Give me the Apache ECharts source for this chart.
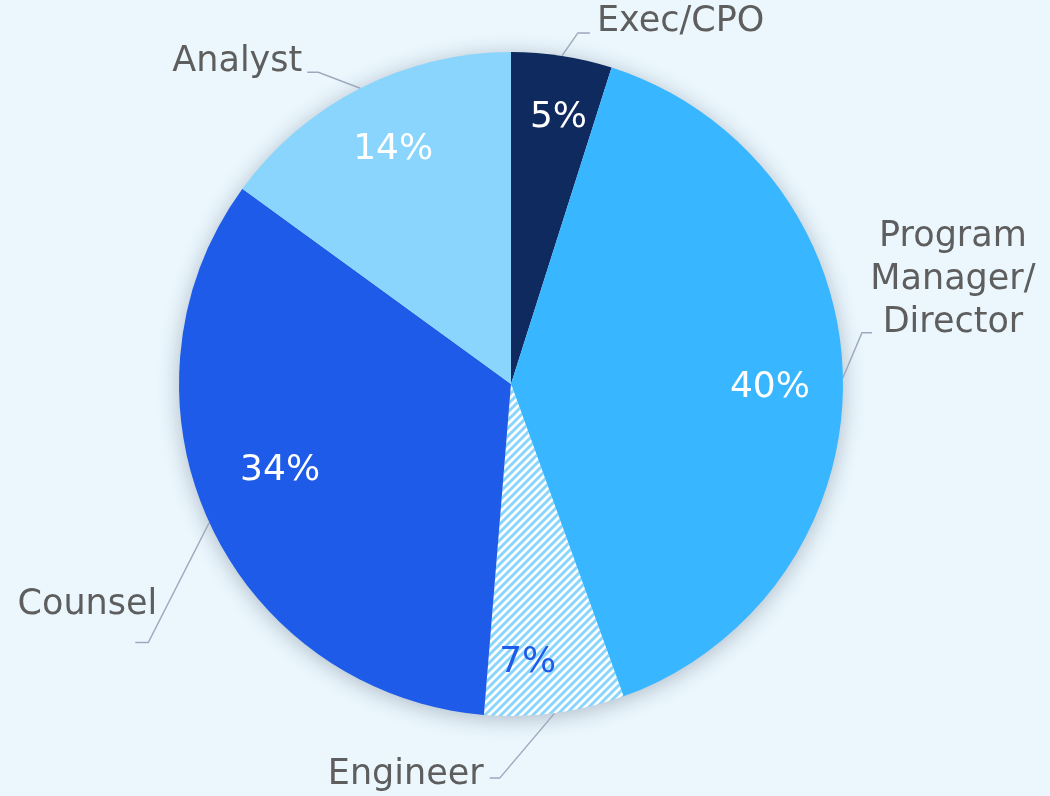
<!DOCTYPE html>
<html>
<head>
<meta charset="utf-8">
<script src="https://cdn.jsdelivr.net/npm/echarts@6/dist/echarts.min.js"></script>
<style>
  html, body { margin: 0; padding: 0; background: #EBF7FD; }
  #chart { width: 1050px; height: 796px; }
</style>
</head>
<body>
<div id="chart"></div>
<script>
const roles = ['Exec/CPO', 'Program\nManager/\nDirector', 'Engineer', 'Counsel', 'Analyst']
// slice sizes as drawn (angles)
const shares = [4.9, 39.6, 6.8, 33.7, 15.0]
// percentages as printed on the slices
const shareLabels = ['5%', '40%', '7%', '34%', '14%']

const sliceColors = ['#0E2A5F', '#38B6FF', null, '#1E5BE8', '#8AD5FD']
const pctColors = ['#fff', '#fff', '#1E5BE8', '#fff', '#fff']
const pctNudge = [[7, -5], [-5, 9], [-18, 17], [9, -24], [2, 1]]
// elbow offset from the arc anchor, horizontal leg, text offset from leg end, align
const labelLegs = [
  [16, -23, 12, 7, -11, 'left'],
  [19, -45, 10, 81, -53, 'center'],
  [-55, 65, -10, -6, -3, 'right'],
  [-61, 120, -13, 22, -38, 'right'],
  [-42, -16, -11, -5, -10, 'right'],
]

function stripes() {
  const c = document.createElement('canvas')
  c.width = 8
  c.height = 8
  const g = c.getContext('2d')
  g.fillStyle = '#ffffff'
  g.fillRect(0, 0, 8, 8)
  g.strokeStyle = '#8AD5FD'
  g.lineWidth = 3
  g.beginPath()
  g.moveTo(-2, 10); g.lineTo(10, -2)
  g.moveTo(-2, 2); g.lineTo(2, -2)
  g.moveTo(6, 10); g.lineTo(10, 6)
  g.stroke()
  return { image: c, repeat: 'repeat' }
}

const hatch = stripes()
const font = '"DejaVu Sans", sans-serif'
const center = [511, 384]

const chart = echarts.init(document.getElementById('chart'))
chart.setOption({
  backgroundColor: '#EBF7FD',
  animation: false,
  series: [
    {
      // plain disc underneath that carries the drop shadow
      type: 'pie',
      center,
      radius: 331,
      silent: true,
      z: 1,
      label: { show: false },
      labelLine: { show: false },
      itemStyle: {
        color: '#EBF7FD',
        shadowBlur: 22,
        shadowColor: 'rgba(30, 45, 70, 0.32)',
        shadowOffsetY: 3,
      },
      data: [{ name: 'shadow', value: 1 }],
    },
    {
      type: 'pie',
      center,
      radius: 332,
      startAngle: 90,
      clockwise: true,
      z: 2,
      avoidLabelOverlap: false,
      emphasis: { disabled: true },
      label: {
        show: true,
        position: 'outside',
        formatter: '{b}',
        color: '#5E5E5E',
        fontFamily: font,
        fontSize: 35,
        lineHeight: 43,
      },
      labelLine: {
        show: true,
        length: 20,
        length2: 10,
        lineStyle: { color: '#A0A8BE', width: 1.5 },
      },
      labelLayout(p) {
        const leg = labelLegs[p.dataIndex]
        const a = p.labelLinePoints[0]
        const elbow = [a[0] + leg[0], a[1] + leg[1]]
        const end = [elbow[0] + leg[2], elbow[1]]
        return {
          x: end[0] + leg[3],
          y: end[1] + leg[4],
          align: leg[5],
          verticalAlign: 'middle',
          labelLinePoints: [a, elbow, end],
        }
      },
      data: roles.map((name, i) => ({
        name,
        value: shares[i],
        itemStyle: { color: sliceColors[i] || hatch },
      })),
    },
    {
      type: 'pie',
      center,
      radius: [190, 332],
      startAngle: 90,
      clockwise: true,
      silent: true,
      z: 5,
      emphasis: { disabled: true },
      itemStyle: { color: 'rgba(0,0,0,0)' },
      label: {
        show: true,
        position: 'inside',
        formatter: p => shareLabels[p.dataIndex],
        fontFamily: font,
        fontSize: 36,
      },
      labelLine: { show: false },
      data: roles.map((name, i) => ({
        name,
        value: shares[i],
        label: { color: pctColors[i], offset: pctNudge[i] },
      })),
    },
  ],
})
</script>
</body>
</html>
